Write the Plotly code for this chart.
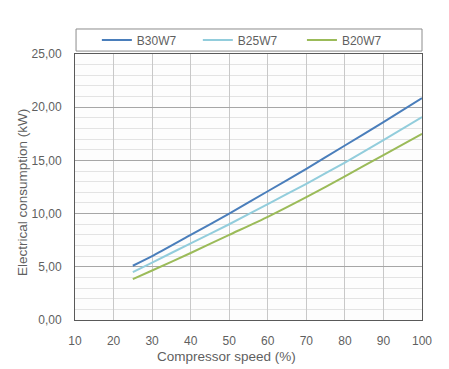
import plotly.graph_objects as go

speed = [25, 30, 40, 50, 60, 70, 80, 90, 100]
b30w7 = [5.1, 6.0, 8.0, 10.0, 12.1, 14.2, 16.4, 18.6, 20.85]
b25w7 = [4.5, 5.4, 7.2, 9.0, 10.9, 12.8, 14.8, 16.9, 19.07]
b20w7 = [3.85, 4.65, 6.3, 8.0, 9.7, 11.55, 13.5, 15.5, 17.5]
names = ["B30W7", "B25W7", "B20W7"]
colors = ["#4a7ebb", "#92cddc", "#9bbb59"]
legend_ids = ["legend", "legend2", "legend3"]
legend_x = [0.063, 0.354, 0.654]
x_title = "Compressor speed (%)"
y_title = "Electrical consumption (kW)"

fig = go.Figure()
for name, ys, c, lid in zip(names, [b30w7, b25w7, b20w7], colors, legend_ids):
    fig.add_trace(go.Scatter(x=speed, y=ys, name=name, mode="lines", legend=lid,
                             line=dict(color=c, width=2, shape="spline", smoothing=0.6)))

FAM = "Liberation Sans, Arial, sans-serif"
GRAY = "#5f5f5f"
font = dict(family=FAM, size=12, color=GRAY)

legends = {}
for lid, lx in zip(legend_ids, legend_x):
    legends[lid] = dict(orientation="h", x=lx, xanchor="left", y=1.053, yanchor="middle",
                        bgcolor="rgba(0,0,0,0)", borderwidth=0,
                        font=dict(family=FAM, size=12, color=GRAY))

fig.update_layout(
    width=449, height=369,
    margin=dict(l=75, r=27, t=54, b=49, autoexpand=False),
    paper_bgcolor="white", plot_bgcolor="#fdfdfd",
    separators=",.",
    font=font,
    showlegend=True,
    xaxis=dict(range=[10, 100], dtick=10, tick0=10, showgrid=True, gridcolor="#c8c8c8",
               showline=True, linecolor="#595959", linewidth=1, mirror=True,
               zeroline=False, ticks="", ticklabelstandoff=10, automargin=False),
    yaxis=dict(range=[0, 25], dtick=5, tickformat=".2f", showgrid=True, gridcolor="#a6a6a6",
               minor=dict(dtick=1, showgrid=True, gridcolor="#e3e3e3"),
               showline=True, linecolor="#595959", linewidth=1, mirror=True,
               zeroline=False, ticks="", ticklabelstandoff=10, automargin=False),
    annotations=[
        dict(text=x_title, xref="paper", yref="paper", x=0.438, y=-0.139,
             xanchor="center", yanchor="middle", showarrow=False,
             font=dict(family=FAM, size=13.5, color=GRAY)),
        dict(text=y_title, xref="paper", yref="paper", x=-0.153, y=0.481,
             xanchor="center", yanchor="middle", showarrow=False, textangle=-90,
             font=dict(family=FAM, size=13.5, color=GRAY)),
    ],
    shapes=[dict(type="rect", xref="paper", yref="paper", x0=0.003, x1=1.0,
                 y0=1.011, y1=1.094, line=dict(color="#8c8c8c", width=1),
                 fillcolor="white", layer="below")],
    **legends,
)

fig.write_html("out.html")
